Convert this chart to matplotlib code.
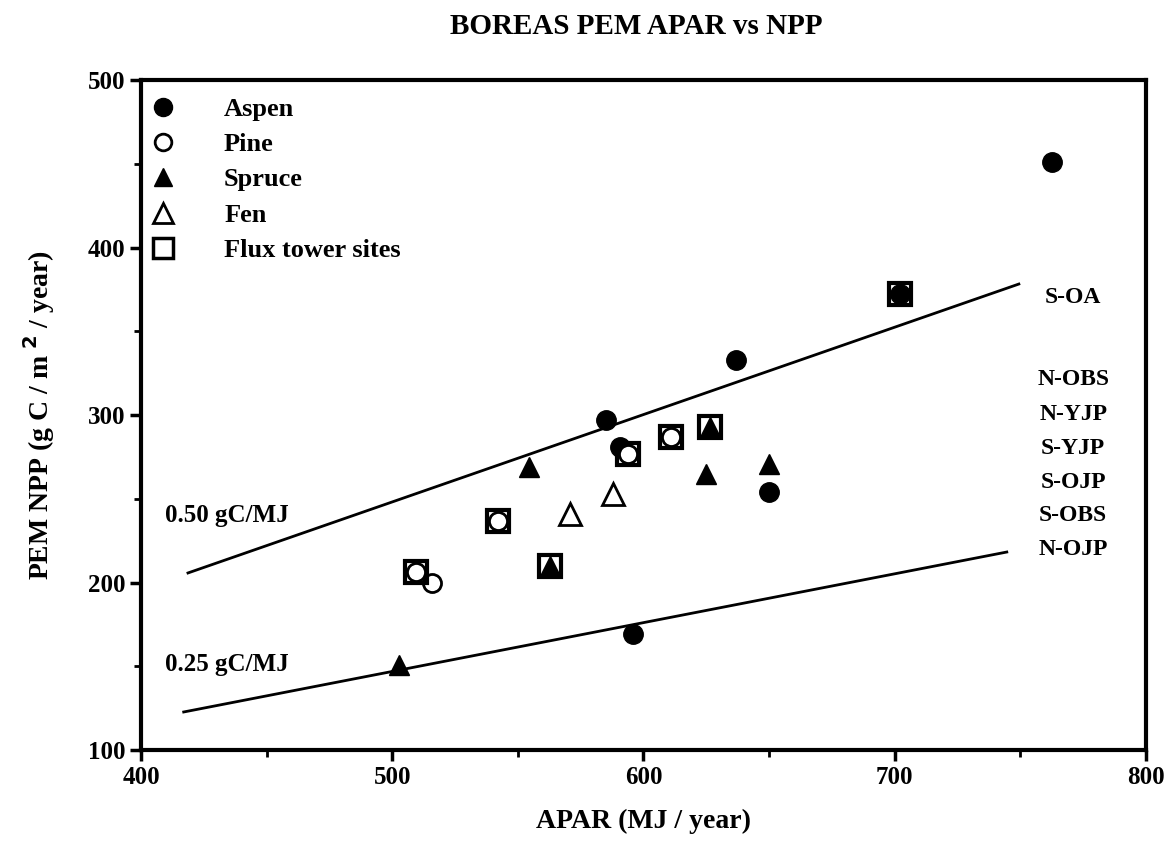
import matplotlib
matplotlib.use("Agg")
import matplotlib.pyplot as plt
from matplotlib.lines import Line2D

plt.rcParams['font.family'] = ['Liberation Serif', 'DejaVu Serif']
plt.rcParams['font.weight'] = 'bold'

# Data
aspen_x = [762.5, 702, 636.8, 585, 590.6, 650, 596]
aspen_y = [451, 372, 333, 297, 281, 254, 169]
pine_x = [516, 509.4, 542, 594, 611]
pine_y = [200, 206, 237, 277, 287]
spruce_x = [554.4, 624.8, 650, 562.8, 626.4, 502.7]
spruce_y = [269, 265, 271, 210, 293, 151]
fen_x = [570.7, 587.8]
fen_y = [241, 253]
flux_x = [702, 509.4, 542, 594, 611, 562.8, 626.4]
flux_y = [372, 206, 237, 277, 287, 210, 293]

line50_x = [418.7, 749.4]
line50_y = [205.7, 378.2]
line25_x = [417, 744.6]
line25_y = [122.7, 218.2]

site_labels = ['S-OA', 'N-OBS', 'N-YJP', 'S-YJP', 'S-OJP', 'S-OBS', 'N-OJP']
site_label_y = [370, 321, 300.6, 280, 260, 240, 220]

fig = plt.figure(figsize=(11.72, 8.55), dpi=100)
ax = fig.add_axes([0.1203, 0.1228, 0.8575, 0.7836])

ax.plot(line50_x, line50_y, color='black', lw=2)
ax.plot(line25_x, line25_y, color='black', lw=2)

ax.plot(aspen_x, aspen_y, 'o', color='black', ms=14, mec='black', ls='none')
ax.plot(pine_x, pine_y, 'o', mfc='white', mec='black', mew=2, ms=13, ls='none')
ax.plot(spruce_x, spruce_y, '^', color='black', ms=15, ls='none')
ax.plot(fen_x, fen_y, '^', mfc='white', mec='black', mew=2, ms=16, ls='none')
ax.plot(flux_x, flux_y, 's', mfc='none', mec='black', mew=3, ms=16, ls='none')

for lab, yy in zip(site_labels, site_label_y):
    ax.text(771, yy, lab, ha='center', va='center', fontsize=17, fontweight='bold')

ax.text(409.5, 240, '0.50 gC/MJ', ha='left', va='center', fontsize=18, fontweight='bold')
ax.text(409.5, 151, '0.25 gC/MJ', ha='left', va='center', fontsize=18, fontweight='bold')

ax.set_xlim(400, 800)
ax.set_ylim(100, 500)
ax.set_xticks([400, 500, 600, 700, 800])
ax.set_xticks([450, 550, 650, 750], minor=True)
ax.set_yticks([100, 200, 300, 400, 500])
ax.set_yticks([150, 250, 350, 450], minor=True)
ax.tick_params(axis='both', which='major', length=8, width=2.5, labelsize=18, direction='out')
ax.tick_params(axis='both', which='minor', length=5, width=2, direction='out')
for lbl in ax.get_xticklabels() + ax.get_yticklabels():
    lbl.set_fontweight('bold')
for sp in ax.spines.values():
    sp.set_linewidth(3)

ax.set_xlabel('APAR (MJ / year)', fontsize=20, fontweight='bold', labelpad=14)
ax.set_ylabel('PEM NPP (g C / m $^2$ / year)', fontsize=20, fontweight='bold', labelpad=22)
fig.suptitle('BOREAS PEM APAR vs NPP', x=0.543, y=0.985, fontsize=21, fontweight='bold')

handles = [
    Line2D([], [], marker='o', color='black', ls='none', ms=13),
    Line2D([], [], marker='o', mfc='white', mec='black', mew=2, ls='none', ms=12),
    Line2D([], [], marker='^', color='black', ls='none', ms=13),
    Line2D([], [], marker='^', mfc='white', mec='black', mew=2, ls='none', ms=15),
    Line2D([], [], marker='s', mfc='none', mec='black', mew=2.5, ls='none', ms=15),
]
labels = ['Aspen', 'Pine', 'Spruce', 'Fen', 'Flux tower sites']
leg = ax.legend(handles, labels, loc='upper left', bbox_to_anchor=(-0.004, 0.99),
                frameon=False, fontsize=19, handlelength=1.2, handletextpad=1.7,
                labelspacing=0.45, borderaxespad=0.0)
for t in leg.get_texts():
    t.set_fontweight('bold')

fig.savefig('out.png', dpi=100)
